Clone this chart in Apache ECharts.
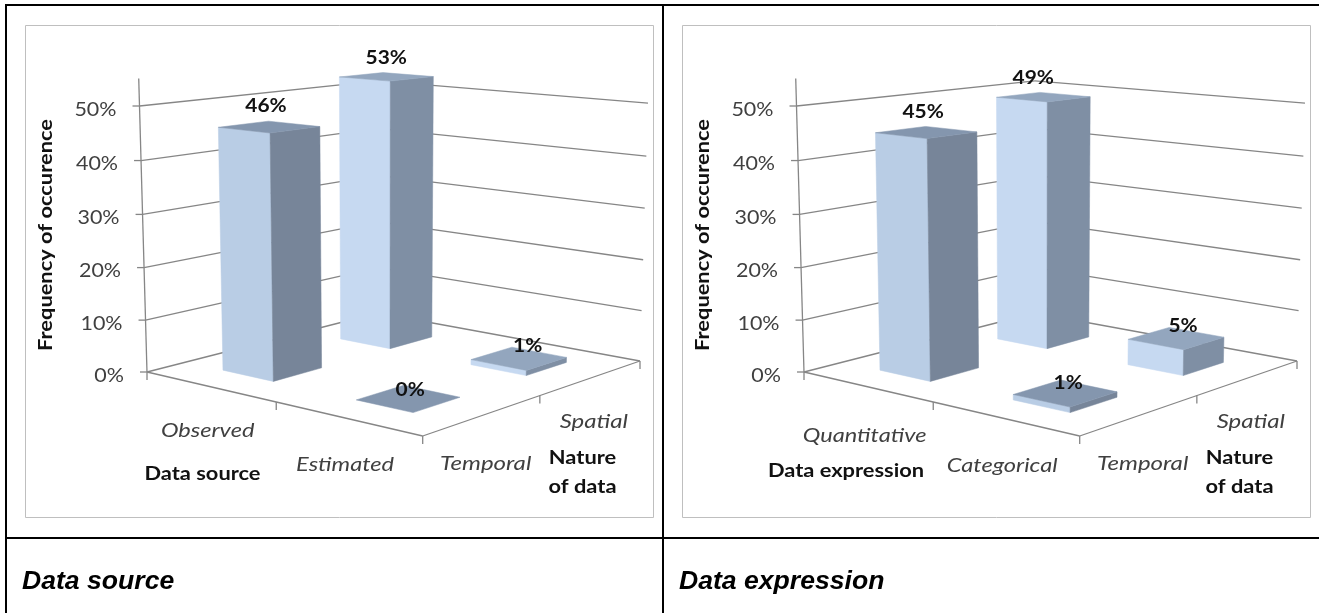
<!DOCTYPE html>
<html><head><meta charset="utf-8">
<style>html,body{margin:0;padding:0;background:#fff}#c{width:1319px;height:613px}</style>
<script src="https://cdn.jsdelivr.net/npm/echarts@6/dist/echarts.min.js"></script>
</head><body><div id="c"></div>
<script>
// ---- data ----
const natureOfData = ['Temporal', 'Spatial'];
const sourceCategories = ['Observed', 'Estimated'];
const sourceTemporal = [46, 0];
const sourceSpatial = [53, 1];
const expressionCategories = ['Quantitative', 'Categorical'];
const expressionTemporal = [45, 1];
const expressionSpatial = [49, 5];
const valueTicks = [0, 10, 20, 30, 40, 50];
const captions = ['Data source', 'Data expression'];

// ---- projection of the floor and walls (panel-local pixels) ----
const A = [147, 372], B = [422.7, 436], C = [640, 361], D = [378, 313];
const TOP_Y = 106, VP = [382, 8707];
const denom = (B[0]-C[0])*(D[1]-C[1]) - (B[1]-C[1])*(D[0]-C[0]);
const sx = A[0]-B[0]+C[0]-D[0], sy = A[1]-B[1]+C[1]-D[1];
const g = (sx*(D[1]-C[1]) - (D[0]-C[0])*sy)/denom;
const h = ((B[0]-C[0])*sy - sx*(B[1]-C[1]))/denom;
const ha = B[0]-A[0]+g*B[0], hb = D[0]-A[0]+h*D[0];
const hd = B[1]-A[1]+g*B[1], he = D[1]-A[1]+h*D[1];
const w = (TOP_Y-A[1])/(VP[1]-TOP_Y);
function project(u, v, t, off) {
  const W = g*u + h*v + 1 + t*w;
  return [(ha*u + hb*v + A[0] + t*w*VP[0])/W + off, (hd*u + he*v + A[1] + t*w*VP[1])/W];
}
const PANEL_OFFSET = [0, 657];
const GRAY = '#868686';
const FONT = 'Lato, "Open Sans", sans-serif';

function line(p, q, stroke, lw) {
  return {type:'line', shape:{x1:p[0],y1:p[1],x2:q[0],y2:q[1]}, style:{stroke:stroke||GRAY, lineWidth:lw||1.3}};
}
function text(x, y, s, font, fill, align, sc) {
  return {type:'text', x, y, scaleX: sc||1, style:{text:s, font, fill:fill||'#404040', align:align||'center', verticalAlign:'middle'}};
}
function heightOf(api, val) {
  const y0 = api.coord([0,0])[1], y50 = api.coord([0,50])[1];
  return (y0 - api.coord([0,val])[1])/(y0 - y50);
}
function wallItem(off) {
  return function (params, api) {
    const val = api.value(0), t = heightOf(api, val);
    const a = project(0,0,t,off), d = project(0,1,t,off), c = project(1,1,t,off);
    return {type:'group', children:[
      line(a,d), line(d,c),
      line([a[0]-7,a[1]], a),
      text(a[0]-23, a[1]+3.5, val+'%', '19px '+FONT, '#404040', 'right', 1.13)
    ]};
  };
}
function floorItem(off) {
  return function (params, api) {
    const kids = [], tickLen = 8;
    const tTop = heightOf(api, 55);
    kids.push(line(project(0,0,tTop,off), project(0,0,0,off)));
    kids.push(line(project(0,0,0,off), project(1,0,0,off)));
    kids.push(line(project(1,0,0,off), project(1,1,0,off)));
    [[0,0],[.5,0],[1,0],[1,.5],[1,1]].forEach(function (q) {
      const p = project(q[0],q[1],0,off);
      kids.push(line(p,[p[0],p[1]+tickLen]));
    });
    return {type:'group', children:kids};
  };
}
const BAR_U0 = 0.101, BAR_U1 = 0.095, BAR_V = 0.099;
const FACE = [
  {left:'#b9cde5', right:'#778599', top:'#8496ae'},
  {left:'#c6d9f1', right:'#7f8fa4', top:'#93a6be'}
];
function footprint(params, api) {
  const cs = params.coordSys;
  const u = (api.coord([api.value(0),0])[0] - cs.x)/cs.width;
  const v = (api.value(1)+0.5)/natureOfData.length;
  return {u, v, u0:u-BAR_U0, u1:u+BAR_U1, v0:v-BAR_V, v1:v+BAR_V};
}
function poly(points, fill) {
  return {type:'polygon', shape:{points}, style:{fill, stroke:fill, lineWidth:0.5}};
}
function barItem(off) {
  return function (params, api) {
    const f = footprint(params, api), val = api.value(2), t = heightOf(api, val), col = FACE[api.value(1)];
    const P = (a,b,tt) => project(a,b,tt,off);
    const kids = [];
    if (val > 0) {
      kids.push(poly([P(f.u0,f.v0,0),P(f.u1,f.v0,0),P(f.u1,f.v0,t),P(f.u0,f.v0,t)], col.left));
      kids.push(poly([P(f.u1,f.v0,0),P(f.u1,f.v1,0),P(f.u1,f.v1,t),P(f.u1,f.v0,t)], col.right));
    }
    kids.push(poly([P(f.u0,f.v0,t),P(f.u1,f.v0,t),P(f.u1,f.v1,t),P(f.u0,f.v1,t)], col.top));
    return {type:'group', children:kids};
  };
}
// label nudges follow the order of rows(): temporal bars, then spatial bars
const LABEL_NUDGE = [
  [[-4,0],[1,3],[-1,4],[8,0]],
  [[-4,1],[2,2],[-11,3],[6,1]]
];
function barLabelItem(off, nudges) {
  return function (params, api) {
    const f = footprint(params, api), val = api.value(2), t = heightOf(api, val);
    const p = project(f.u, f.v, t, off), n = nudges[params.dataIndex];
    return text(p[0]+n[0], p[1]-(12+0.2*val)+n[1], val+'%', 'bold 18.5px '+FONT, '#111', 'center', 1.13);
  };
}
function categoryLabelItem(off, names, dy) {
  return function (params, api) {
    const i = api.value(0), cs = params.coordSys;
    const u = (api.coord([i,0])[0]-cs.x)/cs.width;
    const p = project(u,0,0,off);
    return text(p[0]-2, p[1]+dy[i], names[i], 'italic 20px '+FONT, '#404040', 'center', 1.18);
  };
}
function depthLabelItem(off) {
  return function (params, api) {
    const i = api.value(0);
    const p = project(1,(i+.5)/natureOfData.length,0,off);
    return text(p[0]+2, p[1]+[49,44][i], natureOfData[i], 'italic 20px '+FONT, '#404040', 'center', 1.2);
  };
}
function rows(temporal, spatial) {
  const out = [];
  temporal.forEach((v,i)=>out.push([i,0,v]));
  spatial.forEach((v,i)=>out.push([i,1,v]));
  return out;
}
const panels = [
  {cats:sourceCategories, rows:rows(sourceTemporal, sourceSpatial), dy:[44,46]},
  {cats:expressionCategories, rows:rows(expressionTemporal, expressionSpatial), dy:[49,47]}
];
const grids=[], xAxes=[], yAxes=[], series=[];
panels.forEach(function (p, i) {
  const off = PANEL_OFFSET[i];
  grids.push({left:A[0]+off, width:C[0]-A[0], top:A[1]-290, height:290});
  xAxes.push({type:'category', gridIndex:i, data:p.cats, show:false});
  yAxes.push({type:'value', gridIndex:i, min:0, max:55, show:false, splitLine:{show:false}});
  const base = {type:'custom', xAxisIndex:i, yAxisIndex:i, silent:true, animation:false, clip:false};
  const enc = {encode:{x:0,y:2}};
  series.push(Object.assign({}, base, {name:'walls'+i, renderItem:wallItem(off), data:valueTicks.map(v=>[v]), encode:{y:0}, z:1}));
  series.push(Object.assign({}, base, {name:'floor'+i, renderItem:floorItem(off), data:[[0]], encode:{y:0}, z:2}));
  series.push(Object.assign({}, base, enc, {name:'bars'+i, renderItem:barItem(off), data:p.rows, z:3}));
  series.push(Object.assign({}, base, enc, {name:'values'+i, renderItem:barLabelItem(off, LABEL_NUDGE[i]), data:p.rows, z:4}));
  series.push(Object.assign({}, base, {name:'cats'+i, renderItem:categoryLabelItem(off,p.cats,p.dy), data:p.cats.map((c,k)=>[k]), encode:{x:0}, z:4}));
  series.push(Object.assign({}, base, {name:'depth'+i, renderItem:depthLabelItem(off), data:natureOfData.map((c,k)=>[k]), encode:{x:0}, z:4}));
});
function gLine(x1,y1,x2,y2,stroke,lw){
  return {type:'line', shape:{x1,y1,x2,y2}, style:{stroke,lineWidth:lw}, silent:true, z:0};
}
function gRect(x,y,width,height){
  return {type:'rect', shape:{x,y,width,height}, style:{fill:'#fff',stroke:'#bfbfbf',lineWidth:1}, silent:true, z:-1};
}
function gText(x,y,s,font,rot,fill){
  return {type:'text', x, y, rotation:rot||0, scaleX:1.12, style:{text:s,font,fill:fill||'#111',align:'center',verticalAlign:'middle'}, silent:true, z:5};
}
const BOLD = 'bold 19.5px '+FONT;
const graphics = [
  gRect(25.5,25.5,628,492), gRect(682.5,25.5,628,492),
  gLine(6,5,1319,5,'#000',2), gLine(6,4,6,613,'#000',2), gLine(663,4,663,613,'#000',2), gLine(6,538,1319,538,'#000',2),
  gText(46,235,'Frequency of occurence',BOLD,Math.PI/2),
  gText(202.5,474,'Data source',BOLD),
  gText(582.5,458,'Nature',BOLD), gText(582.5,487,'of data',BOLD),
  gText(846,471,'Data expression',BOLD),
  gText(703,235,'Frequency of occurence',BOLD,Math.PI/2),
  gText(1239.5,458,'Nature',BOLD), gText(1239.5,487,'of data',BOLD)
];
const chart = echarts.init(document.getElementById('c'), null, {renderer:'canvas'});
chart.setOption({
  animation:false, backgroundColor:'#fff',
  title: captions.map((c,i)=>({text:c, left:[22,679][i], top:568, textStyle:{fontFamily:'"Liberation Sans", Arial, sans-serif', fontStyle:'italic', fontWeight:'bold', fontSize:26.6, color:'#000'}, padding:0})),
  grid:grids, xAxis:xAxes, yAxis:yAxes, series, graphic:{elements:graphics}
});
</script></body></html>
